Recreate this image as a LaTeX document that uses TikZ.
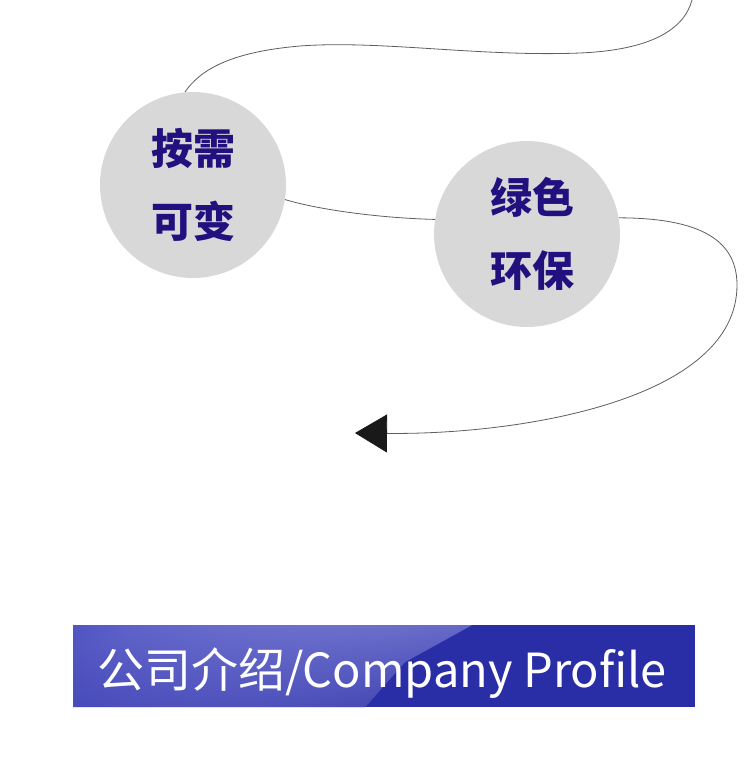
\documentclass[tikz,border=0pt]{standalone}
\usepackage{fontspec}
\newfontfamily\cjk{Noto Sans CJK SC}
\usetikzlibrary{arrows.meta,fadings}
\definecolor{ink}{HTML}{23107F}
\definecolor{discgray}{HTML}{D8D8D8}
\definecolor{wiregray}{HTML}{5E5E5E}
\definecolor{bannerdark}{HTML}{2A2EA6}
\definecolor{bannerleft}{HTML}{5155C2}
\definecolor{bannerlight}{HTML}{A4A6E8}
\tikzset{
  disc/.style={circle, fill=discgray, minimum size=186pt, inner sep=0pt, align=center,
    text=ink, font=\cjk\bfseries\fontsize{42}{73}\selectfont},
  wire/.style={draw=wiregray, line width=0.8pt},
}
\begin{document}
\begin{tikzpicture}[x=1pt, y=-1pt]
\useasboundingbox (0,0) rectangle (750,784);
\node[disc] (need) at (193,185) {按需\\可变}; %left circle
\node[disc] (green) at (527,234) {\hspace*{10pt}绿色\\\hspace*{10pt}环保}; %right circle
\coordinate (top) at (692,0);
\coordinate (tip) at (355,433);
\draw[wire] (top) .. controls (684,30) and (650,50) .. (580,53)
  .. controls (480,57) and (380,40) .. (300,46)
  .. controls (230,52) and (200,70) .. (need.95);
\draw[wire] (need.-9) .. controls (320,210) and (380,218) .. (green.171);
\draw[wire, -{Triangle[length=32pt, width=38pt, color=black!90]}] (green.10)
  .. controls (700,218) and (737,240) .. (737,285)
  .. controls (737,400) and (520,435) .. (tip);
% banner
\fill[bannerdark] (73,625) rectangle (695,707);
\shade[left color=bannerleft, middle color=bannerleft!85!bannerlight, right color=bannerlight]
  (73,625) -- (472,625) -- (405,662) -- (365,707) -- (73,707) -- cycle;
\fill[bannerdark, path fading=north, fading angle=60, fill opacity=0.75]
  (73,625) -- (472,625) -- (405,662) -- (365,707) -- (73,707) -- cycle;
\node[text=white, font=\cjk\fontsize{47}{47}\selectfont, anchor=base] (title) at (382,687)
  {公司介绍/Company Profile};
\end{tikzpicture}
\end{document}
